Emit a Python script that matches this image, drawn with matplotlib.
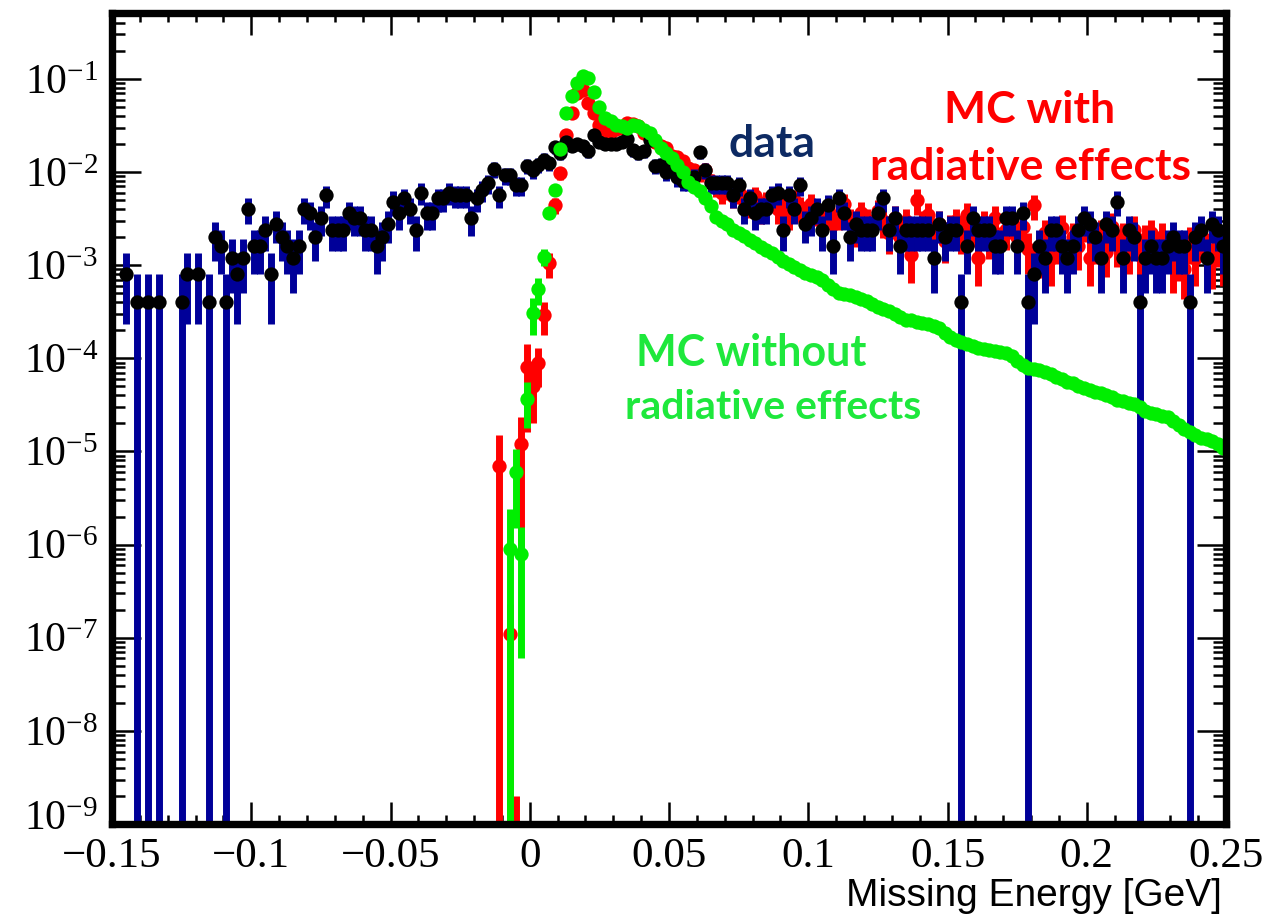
import numpy as np
import matplotlib
matplotlib.use("Agg")
import matplotlib.pyplot as plt
import matplotlib.transforms as mtransforms
from matplotlib.ticker import FixedLocator, MultipleLocator, LogLocator, NullFormatter

# ---------------------------------------------------------------------------
# Histogram binning: 200 bins of 2 MeV from -0.15 to 0.25 GeV
x_lo, x_hi, n_bins = -0.15, 0.25, 200

# Data: event counts per bin (bin 0 = [-0.150, -0.148] GeV), normalised to unit sum
data_counts = [
    0, 0, 2, 0, 1, 0, 1, 0, 1, 0,
    0, 0, 1, 2, 0, 2, 0, 1, 5, 4,
    1, 3, 2, 3, 10, 4, 4, 6, 2, 7,
    5, 4, 3, 4, 10, 9, 5, 8, 14, 6,
    6, 6, 9, 8, 8, 6, 6, 4, 5, 7,
    12, 9, 13, 10, 6, 15, 9, 9, 13, 13,
    15, 14, 14, 14, 8, 13, 16, 19, 27, 14,
    23, 23, 18, 18, 29, 26, 30, 34, 31, 46,
    40, 53, 48, 50, 48, 42, 63, 53, 50, 50,
    50, 52, 56, 43, 40, 42, 55, 29, 30, 25,
    27, 22, 20, 20, 22, 41, 26, 19, 19, 19,
    19, 14, 18, 10, 13, 9, 10, 10, 14, 15,
    6, 14, 10, 18, 7, 8, 10, 6, 11, 4,
    13, 9, 5, 7, 6, 6, 6, 9, 13, 6,
    8, 4, 6, 6, 6, 6, 6, 3, 7, 5,
    6, 6, 1, 4, 8, 6, 6, 6, 4, 4,
    8, 8, 4, 9, 1, 2, 4, 3, 6, 6,
    4, 3, 4, 6, 8, 7, 5, 3, 7, 6,
    12, 3, 6, 5, 1, 3, 4, 3, 3, 4,
    5, 4, 4, 1, 5, 6, 3, 7, 6, 4,
]
data_norm = 1.0 / 2500.0

# MC with radiative effects: normalised contents and relative errors, from bin 69
mc_rad_first_bin = 69
mc_rad = [
    7e-6, 0.0, 1.1e-7, 8e-10, 1.2e-5, 8e-5, 5e-5, 9e-5, 2.9e-4, 1.05e-3,
    4.4e-3, 9.7e-3, 2.5e-2, 4.3e-2, 7.1e-2, 7.6e-2, 5.5e-2, 4.3e-2, 3.2e-2, 2.7e-2,
    2.7e-2, 2.9e-2, 3.0e-2, 3.4e-2, 3.3e-2, 3.1e-2, 2.6e-2, 2.3e-2, 2.1e-2, 1.9e-2,
    1.8e-2, 1.5e-2, 1.45e-2, 1.3e-2, 1.1e-2, 1.05e-2, 9.5e-3, 1.06e-2, 8.0e-3,
    7.0e-3, 6.0e-3, 6.5e-3, 5.5e-3, 6.0e-3, 5.0e-3, 4.5e-3, 5.5e-3, 4.0e-3, 4.8e-3,
    5.5e-3, 4.0e-3, 4.5e-3, 3.5e-3, 5.0e-3, 4.2e-3, 3.0e-3, 4.5e-3, 3.8e-3, 3.2e-3,
    4.0e-3, 2.8e-3, 3.5e-3, 4.5e-3, 3.0e-3, 2.5e-3, 3.6e-3, 3.0e-3, 2.6e-3, 3.8e-3,
    3.0e-3, 2.2e-3, 3.2e-3, 2.0e-3, 3.0e-3, 1.3e-3, 5.0e-3, 2.8e-3, 3.5e-3, 2.2e-3,
    2.8e-3, 1.8e-3, 2.5e-3, 3.0e-3, 2.2e-3, 3.5e-3, 2.5e-3, 1.2e-3, 2.8e-3, 2.0e-3,
    3.2e-3, 1.8e-3, 2.4e-3, 3.0e-3, 2.0e-3, 2.6e-3, 1.5e-3, 4.4e-3, 1.4e-3, 2.2e-3,
    1.2e-3, 1.8e-3, 2.5e-3, 1.3e-3, 2.0e-3, 1.6e-3, 2.8e-3, 1.2e-3, 1.8e-3, 2.2e-3,
    1.4e-3, 2.6e-3, 1.7e-3, 2.0e-3, 1.5e-3, 2.4e-3, 1.3e-3, 1.9e-3, 2.2e-3, 1.4e-3,
    2.0e-3, 1.6e-3, 1.0e-3, 1.3e-3, 0.9e-3, 1.8e-3, 1.2e-3, 2.0e-3, 1.5e-3, 1.1e-3,
    1.7e-3, 1.2e-3,
]
mc_rad_relerr = [
    1.15, 0.0, 1.1, 1.5, 0.94, 0.8, 0.6, 0.45, 0.38, 0.3,
    0.2, 0.15, 0.1, 0.08, 0.07, 0.07, 0.08, 0.08, 0.09, 0.1,
    0.1, 0.1, 0.1, 0.1, 0.1, 0.1, 0.1, 0.12, 0.12, 0.12,
    0.13, 0.13, 0.14, 0.15, 0.15, 0.16, 0.17, 0.17, 0.2,
    0.22, 0.25, 0.22, 0.25, 0.24, 0.27, 0.28, 0.25, 0.3, 0.27,
    0.26, 0.3, 0.28, 0.32, 0.27, 0.3, 0.35, 0.28, 0.3, 0.33,
    0.3, 0.36, 0.32, 0.28, 0.34, 0.38, 0.32, 0.35, 0.37, 0.32,
    0.35, 0.4, 0.34, 0.42, 0.35, 0.5, 0.3, 0.37, 0.33, 0.4,
    0.37, 0.42, 0.38, 0.35, 0.4, 0.33, 0.38, 0.5, 0.37, 0.42,
    0.35, 0.43, 0.4, 0.36, 0.42, 0.38, 0.47, 0.3, 0.48, 0.4,
    0.5, 0.43, 0.38, 0.47, 0.42, 0.45, 0.36, 0.5, 0.43, 0.4,
    0.47, 0.38, 0.44, 0.42, 0.46, 0.4, 0.48, 0.43, 0.4, 0.47,
    0.42, 0.45, 0.5, 0.48, 0.52, 0.43, 0.5, 0.42, 0.46, 0.5,
    0.44, 0.5,
]

# MC without radiative effects: normalised contents from bin 71
mc_norad_first_bin = 71
mc_norad = [
    9e-7, 6e-6, 8e-7, 3.7e-5, 3.1e-4, 5.5e-4, 1.23e-3, 3.6e-3, 6.4e-3, 1.75e-2,
    4.3e-2, 6.6e-2, 9.0e-2, 1.08e-1, 1.03e-1, 7.3e-2, 5.0e-2, 3.8e-2, 3.5e-2, 3.2e-2,
    3.1e-2, 3.0e-2, 3.2e-2, 3.1e-2, 2.8e-2, 2.6e-2, 2.2e-2, 1.8e-2, 1.6e-2, 1.42e-2,
    1.2e-2, 1.0e-2, 7.9e-3, 6.9e-3, 6.2e-3, 5.2e-3, 4.3e-3, 3.3e-3, 2.95e-3, 2.75e-3,
    2.4e-3, 2.2e-3, 2.05e-3, 1.86e-3, 1.74e-3, 1.58e-3, 1.45e-3, 1.35e-3, 1.23e-3, 1.12e-3,
    1.02e-3, 9.5e-4, 8.9e-4, 8.3e-4, 7.8e-4, 7.4e-4, 6.9e-4, 6.2e-4, 5.5e-4, 5.0e-4,
    4.9e-4, 4.8e-4, 4.6e-4, 4.3e-4, 4.1e-4, 3.8e-4, 3.6e-4, 3.4e-4, 3.2e-4, 3.0e-4,
    2.8e-4, 2.6e-4, 2.57e-4, 2.45e-4, 2.4e-4, 2.35e-4, 2.2e-4, 2.1e-4, 1.86e-4, 1.7e-4,
    1.58e-4, 1.48e-4, 1.41e-4, 1.35e-4, 1.29e-4, 1.26e-4, 1.23e-4, 1.2e-4, 1.17e-4, 1.15e-4,
    1.05e-4, 9.3e-5, 8.5e-5, 7.9e-5, 7.6e-5, 7.4e-5, 7.1e-5, 6.8e-5, 6.3e-5, 6.0e-5,
    5.6e-5, 5.4e-5, 5.1e-5, 4.8e-5, 4.6e-5, 4.4e-5, 4.2e-5, 4.0e-5, 3.8e-5, 3.6e-5,
    3.5e-5, 3.3e-5, 3.2e-5, 3.0e-5, 2.75e-5, 2.6e-5, 2.5e-5, 2.4e-5, 2.35e-5, 2.1e-5,
    1.9e-5, 1.74e-5, 1.6e-5, 1.5e-5, 1.4e-5, 1.35e-5, 1.3e-5, 1.2e-5, 1.1e-5,
]
# absolute errors of the first (low-statistics) bins of the rising edge
mc_norad_edge_err = [1.5e-6, 4.5e-6, 7.4e-7, 1.9e-5, 1.3e-4, 1.8e-4, 2.5e-4, 4.5e-4, 6.5e-4, 1.0e-3]

# Axis ticks
x_ticks = [-0.15, -0.1, -0.05, 0.0, 0.05, 0.1, 0.15, 0.2, 0.25]
x_ticklabels = ["\u22120.15", "\u22120.1", "\u22120.05", "0", "0.05", "0.1", "0.15", "0.2", "0.25"]
y_ticks = [1e-9, 1e-8, 1e-7, 1e-6, 1e-5, 1e-4, 1e-3, 1e-2, 1e-1]
y_ticklabels = [r"$\mathregular{10^{-%d}}$" % k for k in range(9, 0, -1)]

# ---------------------------------------------------------------------------
W, H = 1265, 915
L, R, T, B = 112, 1226, 13, 824
fig = plt.figure(figsize=(W / 100, H / 100), dpi=100)
ax = fig.add_axes([L / W, 1 - B / H, (R - L) / W, (B - T) / H])
ax.set_xlim(x_lo, x_hi)
ax.set_yscale("log")
ax.set_ylim(1e-9, 0.51)

edges = np.linspace(x_lo, x_hi, n_bins + 1)
centers = 0.5 * (edges[:-1] + edges[1:])

BAR_LW = 5.0
MS = 10.3
FLOOR = 1e-14


def draw_points(xc, val, err, bar_color, mark_color, z, bars=True):
    val = np.asarray(val, float)
    err = np.asarray(err, float)
    keep = val > 0
    xc, val, err = xc[keep], val[keep], err[keep]
    if bars:
        lo = np.clip(val - err, FLOOR, None)
        hi = val + err
        ax.vlines(xc, lo, hi, colors=bar_color, lw=BAR_LW, zorder=z,
                  capstyle="butt")
    ax.plot(xc, val, "o", ms=MS, color=mark_color, mec=mark_color, mew=0,
            zorder=z + 0.5, clip_on=True)


# MC with radiative effects (red)
n_rad = len(mc_rad)
x_rad = centers[mc_rad_first_bin:mc_rad_first_bin + n_rad]
v_rad = np.asarray(mc_rad)
draw_points(x_rad, v_rad, v_rad * np.asarray(mc_rad_relerr), "#ff0000", "#ff0000", 2)

# data (black points, dark blue Poisson errors)
counts = np.asarray(data_counts, float)
draw_points(centers, counts * data_norm, np.sqrt(counts) * data_norm,
            "#000099", "black", 4)

# MC without radiative effects (green)
n_nr = len(mc_norad)
x_nr = centers[mc_norad_first_bin:mc_norad_first_bin + n_nr]
v_nr = np.asarray(mc_norad)
n_edge = len(mc_norad_edge_err)
ax.vlines(x_nr[:n_edge], np.clip(v_nr[:n_edge] - np.asarray(mc_norad_edge_err), FLOOR, None),
          v_nr[:n_edge] + np.asarray(mc_norad_edge_err), colors="#00ee00",
          lw=BAR_LW, zorder=6, capstyle="butt")
draw_points(x_nr, v_nr, np.zeros_like(v_nr), "#00ee00", "#00ee00", 6, bars=False)

# ---------------------------------------------------------------------------
# Frame and ticks in the ROOT style
for sp in ax.spines.values():
    sp.set_linewidth(5.3)
    sp.set_zorder(10)

ax.xaxis.set_major_locator(FixedLocator(x_ticks))
ax.xaxis.set_minor_locator(MultipleLocator(0.01))
ax.set_xticklabels(x_ticklabels, fontfamily="Liberation Serif")
ax.yaxis.set_major_locator(FixedLocator(y_ticks))
ax.yaxis.set_minor_locator(LogLocator(base=10, subs=np.arange(2, 10), numticks=30))
ax.yaxis.set_minor_formatter(NullFormatter())
ax.set_yticklabels(y_ticklabels, fontfamily="Liberation Serif")

ax.tick_params(which="both", direction="in", top=True, right=True,
               width=1.8, color="black", zorder=11)
ax.tick_params(axis="x", which="major", length=16, pad=10, labelsize=31)
ax.tick_params(axis="x", which="minor", length=6.5)
ax.tick_params(axis="y", which="major", length=21, pad=10, labelsize=30)
ax.tick_params(axis="y", which="minor", length=9.5)

# lift the lowest decade label a little so it clears the x tick labels
lowest = ax.get_yticklabels()[0]
lowest.set_transform(lowest.get_transform() +
                     mtransforms.ScaledTranslation(0, 6 / 72, fig.dpi_scale_trans))

fig.text(1222 / W, 1 - 906 / H, "Missing Energy [GeV]", ha="right", va="baseline",
         fontsize=28, fontfamily="Liberation Sans", color="black")

# In-plot annotations
ann = dict(fontfamily="Lato", fontweight="bold", ha="center", va="baseline")
fig.text(772 / W, 1 - 157 / H, "data", color="#0d2a63", fontsize=32, **ann)
fig.text(1030 / W, 1 - 123 / H, "MC with", color="#ff0000", fontsize=32, **ann)
fig.text(1030 / W, 1 - 180 / H, "radiative effects", color="#ff0000", fontsize=32, **ann)
fig.text(751 / W, 1 - 366 / H, "MC without", color="#1ee83c", fontsize=31, **ann)
fig.text(773 / W, 1 - 419 / H, "radiative effects", color="#1ee83c", fontsize=29.5, **ann)

fig.savefig("out.png", dpi=100)
